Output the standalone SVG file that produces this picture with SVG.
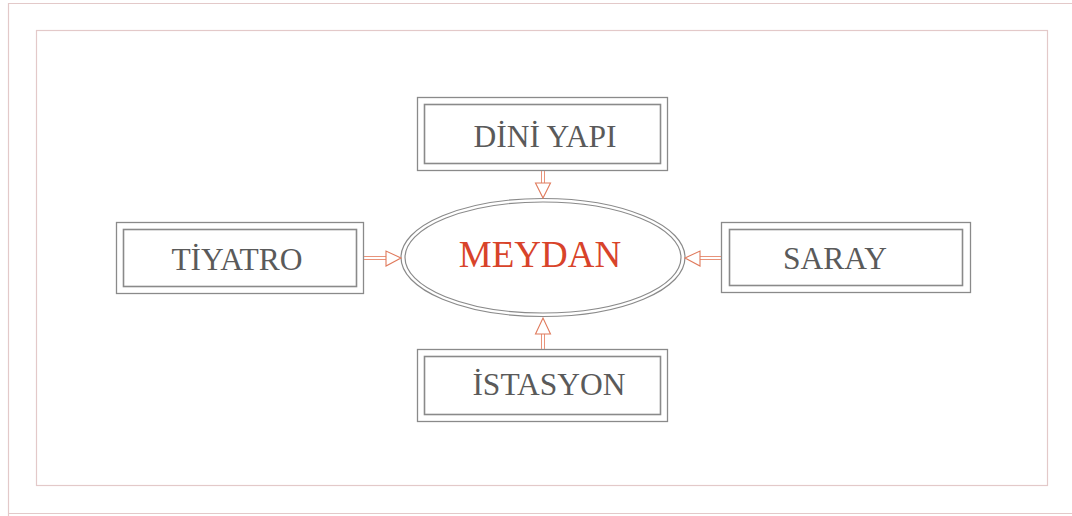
<svg xmlns="http://www.w3.org/2000/svg" width="1072" height="516" viewBox="0 0 1072 516">
<style>
.frame{fill:none;stroke:#e3c9c9;stroke-width:1.2}
.bo{fill:none;stroke:#8a8a8a;stroke-width:1.3}
.bi{fill:none;stroke:#8a8a8a;stroke-width:1.6}
.lbl{font-family:"Liberation Serif",serif;font-size:31.5px;fill:#5a5a5a;text-anchor:middle}
.main{font-family:"Liberation Serif",serif;font-size:37px;fill:#d8432a;text-anchor:middle}
.shaft{stroke:#e8937a;stroke-width:1}
.head{fill:#fff;stroke:#e07a5c;stroke-width:1.1}
</style>
<rect width="1072" height="516" fill="#fff"/>
<path class="frame" d="M8.5,516 V3.5 H1072 M8.5,513.5 H1072"/>
<rect class="frame" x="36.5" y="30.5" width="1011" height="455"/>
<g id="meydan">
<ellipse cx="543" cy="257.5" rx="142" ry="59" fill="none" stroke="#8a8a8a" stroke-width="1.2"/>
<ellipse cx="543" cy="257.5" rx="138" ry="55.5" fill="none" stroke="#8a8a8a" stroke-width="1.2"/>
<text class="main" x="540" y="267">MEYDAN</text>
</g>
<g id="dini-yapi">
<rect class="bo" x="417.5" y="97.5" width="250" height="73"/>
<rect class="bi" x="424.5" y="104.5" width="236" height="59"/>
<text class="lbl" x="545" y="147">DİNİ YAPI</text>
</g>
<g id="tiyatro">
<rect class="bo" x="116.5" y="222.5" width="247" height="71"/>
<rect class="bi" x="123.5" y="229.5" width="233" height="57"/>
<text class="lbl" x="237" y="270">TİYATRO</text>
</g>
<g id="saray">
<rect class="bo" x="721.5" y="222.5" width="249" height="70"/>
<rect class="bi" x="729.5" y="229.5" width="233" height="56"/>
<text class="lbl" x="835" y="269">SARAY</text>
</g>
<g id="istasyon">
<rect class="bo" x="417.5" y="349.5" width="250" height="72"/>
<rect class="bi" x="424.5" y="356.5" width="236" height="58"/>
<text class="lbl" x="549" y="395">İSTASYON</text>
</g>
<g id="connectors">
<line class="shaft" x1="541.5" y1="171" x2="541.5" y2="183"/>
<line class="shaft" x1="544.5" y1="171" x2="544.5" y2="183"/>
<polygon class="head" points="535.5,183 550.5,183 543,198"/>
<line class="shaft" x1="364" y1="256.5" x2="386" y2="256.5"/>
<line class="shaft" x1="364" y1="259.5" x2="386" y2="259.5"/>
<polygon class="head" points="386,251 386,266 401,258"/>
<line class="shaft" x1="700" y1="256.5" x2="721" y2="256.5"/>
<line class="shaft" x1="700" y1="259.5" x2="721" y2="259.5"/>
<polygon class="head" points="700,251 700,266 685,258"/>
<line class="shaft" x1="541.5" y1="334" x2="541.5" y2="349"/>
<line class="shaft" x1="544.5" y1="334" x2="544.5" y2="349"/>
<polygon class="head" points="535.5,334 550.5,334 543,318"/>
</g>
</svg>
